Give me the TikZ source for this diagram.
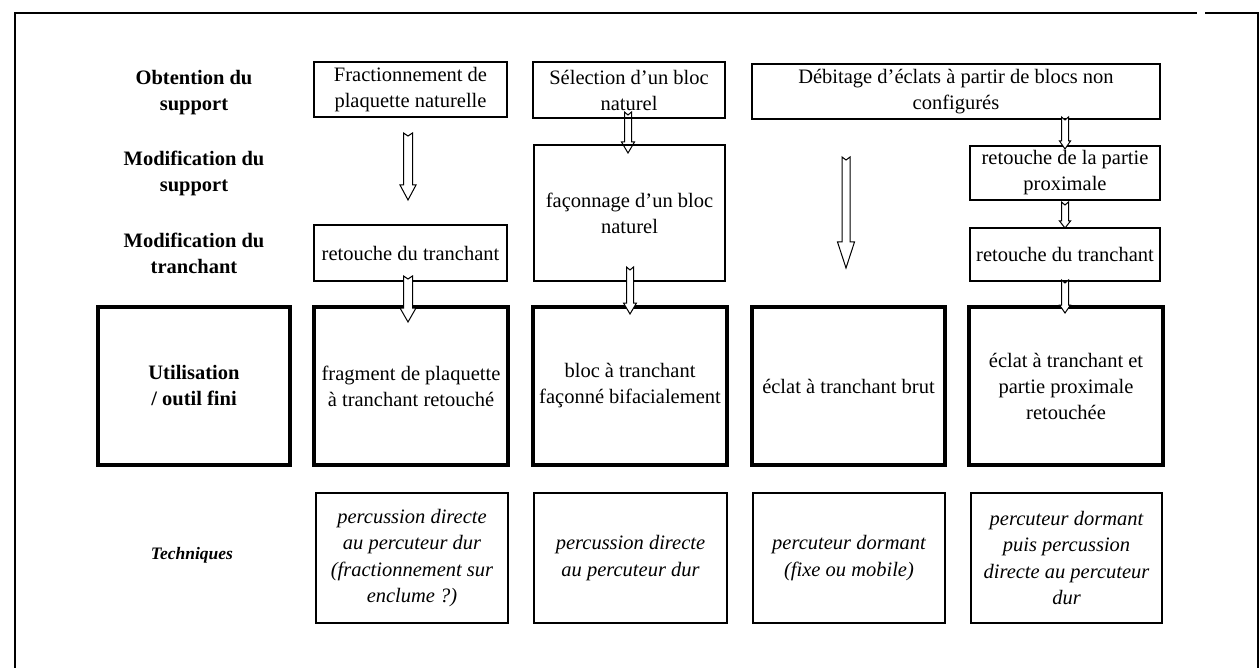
\documentclass[tikz,border=0pt]{standalone}
\usepackage{fontspec}
\setmainfont{Liberation Serif}
\usetikzlibrary{calc}
\tikzset{
  box/.style={draw, line width=2.2pt, align=center, inner sep=0pt,
    font=\fontsize{20.5}{26}\selectfont},
  thickbox/.style={box, line width=4pt},
  techbox/.style={box, line width=2pt, font=\fontsize{20.5}{26.5}\selectfont\itshape},
  lab/.style={align=center, font=\fontsize{20.5}{26}\selectfont\bfseries},
  arrowstyle/.style={draw, line width=1pt, fill=white, line join=miter},
  frame/.style={line width=2pt}
}
\newcommand\blockarr[6][]{%
  \draw[arrowstyle,#1] let \p1=(#2),\p2=(#3) in
   (\x1-#4pt,\y1) -- (\x1,\y1-3pt) -- (\x1+#4pt,\y1) -- (\x1+#4pt,\y2+#6pt)
   -- (\x1+#5pt,\y2+#6pt) -- (\x2,\y2) -- (\x1-#5pt,\y2+#6pt)
   -- (\x1-#4pt,\y2+#6pt) -- cycle;}
\begin{document}
\begin{tikzpicture}[x=1pt,y=-1pt]
\useasboundingbox (0,0) rectangle (1260,668);
% frame
\draw[frame] (15,668) -- (15,13) -- (1197,13);
\draw[frame] (1205,13) -- (1258,13) -- (1258,668);

% row labels
\node[lab] (l1) at (194,93) {Obtention du\\support};
\node[lab] (l2) at (194,173.5) {Modification du\\support};
\node[lab] (l3) at (194,253.5) {Modification du\\tranchant};
\node[thickbox, font=\fontsize{20.5}{26}\selectfont\bfseries, minimum width=192, minimum height=158] (l4) at (194,386) {Utilisation\\/ outil fini};
\node[font=\fontsize{17.5}{20}\selectfont\bfseries\itshape] (l5) at (192,555) {Techniques};

% top row
\node[box, minimum width=193, minimum height=55] (t1) at (410.5,89.5) {Fractionnement de\\plaquette naturelle};
\node[box, minimum width=192, minimum height=56] (t2) at (629,90) {Sélection d’un bloc\\naturel};
\node[box, minimum width=408, minimum height=55] (t3) at (956,91.5) {Débitage d’éclats à partir de blocs non\\configurés};

% middle boxes
\node[box, minimum width=191, minimum height=136] (fac) at (629.5,213) {façonnage d’un bloc\\naturel};
\node[box, minimum width=193, minimum height=56] (r1) at (410.5,253) {retouche du tranchant};
\node[box, minimum width=190, minimum height=54] (prox) at (1065,173) {retouche de la partie\\proximale};
\node[box, minimum width=190, minimum height=53] (r4) at (1065,254.5) {retouche du tranchant};

% tools row
\node[thickbox, minimum width=194, minimum height=158] (u1) at (411,386) {fragment de plaquette\\à tranchant retouché};
\node[thickbox, minimum width=194, minimum height=158] (u2) at (630,386) {bloc à tranchant\\façonné bifacialement};
\node[thickbox, minimum width=193, minimum height=158] (u3) at (848.5,386) {éclat à tranchant brut};
\node[thickbox, minimum width=194, minimum height=158] (u4) at (1066,386) {éclat à tranchant et\\partie proximale\\retouchée};

% techniques row
\node[techbox, minimum width=192, minimum height=130] (k1) at (412,558) {percussion directe\\au percuteur dur\\(fractionnement sur\\enclume ?)};
\node[techbox, minimum width=193, minimum height=130] (k2) at (630.5,558) {percussion directe\\au percuteur dur};
\node[techbox, minimum width=192, minimum height=130] (k3) at (849,558) {percuteur dormant\\(fixe ou mobile)};
\node[techbox, minimum width=191, minimum height=130] (k4) at (1066.5,558) {percuteur dormant\\puis percussion\\directe au percuteur\\dur};

% arrow end points
\coordinate (a1s) at (408,133);  \coordinate (a1e) at (408,200);
\coordinate (a2s) at (408,276);  \coordinate (a2e) at (408,322);
\coordinate (a3s) at (628,112);  \coordinate (a3e) at (628,153);
\coordinate (a4s) at (630,267);  \coordinate (a4e) at (630,314);
\coordinate (a5s) at (846,157);  \coordinate (a5e) at (846,268);
\coordinate (a6s) at (1065,117); \coordinate (a6e) at (1065,149);
\coordinate (a7s) at (1065,202); \coordinate (a7e) at (1065,228);
\coordinate (a8s) at (1065,280); \coordinate (a8e) at (1065,313);

\blockarr{a1s}{a1e}{4.5}{8}{15}
\blockarr{a2s}{a2e}{4.5}{8}{14}
\blockarr[fill=none]{a3s}{a3e}{3.5}{6.5}{11}
\blockarr{a4s}{a4e}{3.5}{6.5}{11}
\blockarr{a5s}{a5e}{4}{8.5}{26}
\blockarr{a6s}{a6e}{3.5}{5.5}{8}
\blockarr{a7s}{a7e}{3.5}{5.5}{7}
\blockarr{a8s}{a8e}{3.5}{5.5}{8}
\end{tikzpicture}
\end{document}
